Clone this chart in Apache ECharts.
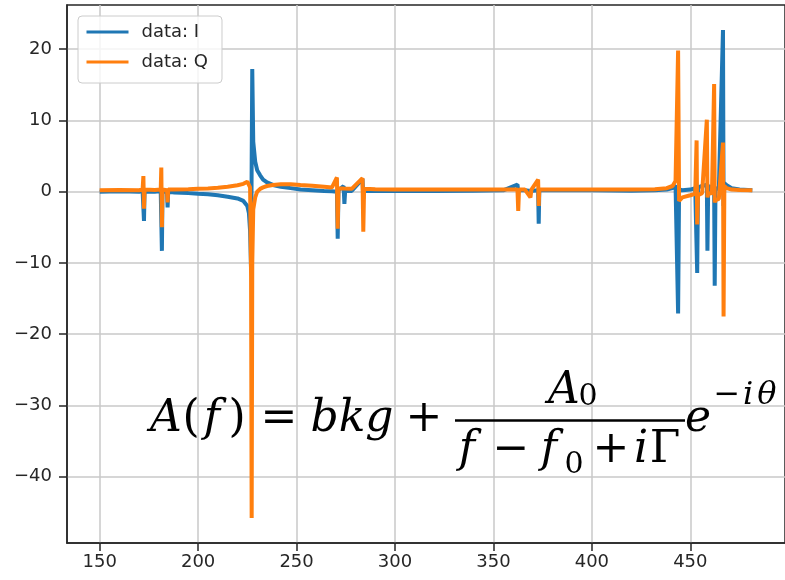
<!DOCTYPE html>
<html><head><meta charset="utf-8">
<script src="https://cdn.jsdelivr.net/npm/echarts@6/dist/echarts.min.js"></script>
<style>html,body{margin:0;padding:0;background:#fff}#c{width:785px;height:580px}</style>
</head><body><div id="c"></div>
<script>
// Frequencies (x values)
const freq = [
150, 160, 170, 171.8, 172.2, 172.5, 172.8, 173.2, 178, 181.0,
181.3, 181.6, 181.9, 182.3, 184.2, 184.5, 184.8, 188, 195, 200,
205, 210, 215, 220, 223, 225, 225.8, 226.4, 226.9, 227.2,
227.5, 228.0, 229.0, 230.0, 231.5, 233, 235, 238, 242, 247,
252, 258, 264, 268, 270.5, 270.9, 271.3, 273.9, 274.3, 274.7,
278, 283.5, 283.9, 284.3, 290, 300, 320, 340, 355, 362.2,
362.6, 363.0, 366, 368.8, 369.3, 372.7, 373.0, 373.3, 380, 400,
420, 432, 438, 441, 442.5, 443.8, 444.3, 446, 450, 452.5,
453.2, 453.5, 453.9, 456, 458.4, 458.7, 459.1, 461, 462.1, 462.4,
462.8, 464.5, 466.6, 466.9, 467.3, 468.5, 471, 475, 481.5
];
// In-phase component
const seriesI = [
0.0, 0.05, 0.0, 0.1, 0.2, -4.1, 0.0, 0.0, 0.0, 0.1,
0.2, -8.3, 0.0, -0.1, 0.0, -2.2, 0.0, -0.1, -0.2, -0.3,
-0.35, -0.5, -0.7, -0.95, -1.3, -2.0, -3.0, -5.5, -11.0, 4.0,
17.2, 7.0, 4.2, 3.0, 2.3, 1.7, 1.3, 0.95, 0.7, 0.5,
0.3, 0.2, 0.1, 0.05, 0.0, -6.6, 0.2, 0.8, -1.7, 0.1,
0.1, 1.8, -1.0, 0.1, 0.1, 0.1, 0.1, 0.15, 0.2, 1.0,
0.2, 0.2, 0.2, 0.1, 0.2, 0.2, -4.5, 0.2, 0.2, 0.2,
0.15, 0.2, 0.3, 0.5, 0.9, -17.1, 0.3, 0.2, 0.3, 0.5,
0.4, -11.4, 0.6, 0.8, 1.0, -8.3, 0.8, 0.6, 0.5, -13.2,
0.5, 0.4, 22.7, -2.0, 1.2, 0.9, 0.5, 0.3, 0.2
];
// Quadrature component
const seriesQ = [
0.2, 0.25, 0.2, 0.3, 2.2, -2.4, 0.3, 0.2, 0.25, 0.3,
3.4, -5.0, 0.3, 0.2, 0.2, -1.5, 0.3, 0.3, 0.35, 0.4,
0.45, 0.55, 0.7, 0.9, 1.1, 1.4, 1.6, 0.6, -12, -45.8,
-10, -2.5, -0.8, 0.0, 0.4, 0.6, 0.8, 0.95, 1.05, 1.05,
0.95, 0.85, 0.7, 0.6, 2.0, -5.2, 0.5, 0.45, 0.4, 0.45,
0.4, 1.9, -5.6, 0.4, 0.35, 0.3, 0.3, 0.3, 0.3, 0.3,
-2.7, 0.3, 0.3, -0.8, 0.3, 1.7, -2.0, 0.3, 0.3, 0.3,
0.3, 0.35, 0.5, 0.8, 1.5, 19.8, -1.3, -0.8, -0.5, -0.3,
7.2, -4.6, -0.5, -0.2, 10.1, -0.8, -0.3, -0.2, 15.1, -1.5,
-1.2, -1.0, 6.9, -17.5, 0.8, 0.5, 0.3, 0.25, 0.2
];
const seriesNames = ['data: I', 'data: Q'];
const xTicks = [150, 200, 250, 300, 350, 400, 450];
const yTicks = [-40, -30, -20, -10, 0, 10, 20];

const pairs = (ys) => freq.map((f, i) => [f, ys[i]]);
const txt = '#262626';
const axisFont = {fontFamily: 'DejaVu Sans', fontSize: 18, color: txt};

function glyph(text, cx, cy, size, italic) {
  return {
    type: 'text', x: cx, y: cy, z: 100,
    style: {
      text: text,
      font: (italic ? 'italic ' : '') + size + 'px "DejaVu Serif"',
      fill: '#000', align: 'center', verticalAlign: 'middle',
      textAlign: 'center', textVerticalAlign: 'middle'
    }
  };
}

const formula = [
  glyph('A', 166, 420, 44, true),
  glyph('(', 191, 420, 44, false),
  glyph('f', 212, 420, 44, true),
  glyph(')', 237, 420, 44, false),
  glyph('=', 279, 420, 44, false),
  glyph('bkg', 352, 420, 44, true),
  glyph('+', 424, 420, 44, false),
  {type: 'line', z: 100, shape: {x1: 455, y1: 420.5, x2: 685, y2: 420.5}, style: {stroke: '#000', lineWidth: 2.5}},
  glyph('A', 564, 392, 44, true),
  glyph('0', 588, 397, 30, false),
  glyph('f', 467, 451, 44, true),
  glyph('\u2212', 511, 451, 44, false),
  glyph('f', 549, 451, 44, true),
  glyph('0', 574, 465, 30, false),
  glyph('+', 611, 451, 44, false),
  glyph('i', 641, 451, 44, true),
  glyph('\u0393', 665, 451, 44, false),
  glyph('e', 698, 420, 44, true),
  glyph('\u2212', 727, 396, 32, false),
  glyph('i', 748, 396, 32, true),
  glyph('\u03b8', 767, 396, 32, true)
];

const chart = echarts.init(document.getElementById('c'), null, {renderer: 'canvas'});
chart.setOption({
  animation: false,
  backgroundColor: '#fff',
  grid: {left: 67, right: -4, top: 5, bottom: 37, show: true, borderColor: txt, borderWidth: 1.5, backgroundColor: 'transparent'},
  legend: {
    left: 78, top: 16, orient: 'vertical',
    data: seriesNames,
    itemWidth: 42, itemHeight: 18, itemGap: 12,
    padding: [7, 14, 12, 7],
    backgroundColor: 'rgba(255,255,255,0.8)',
    borderColor: '#cccccc', borderWidth: 1, borderRadius: 4,
    lineStyle: {width: 3},
    itemStyle: {opacity: 0, borderWidth: 0},
    textStyle: {fontFamily: 'DejaVu Sans', fontSize: 18, color: txt, padding: [0, 0, 0, 8]}
  },
  xAxis: {
    type: 'value', min: 133.4, max: 498.1,
    axisLine: {show: true, onZero: false, lineStyle: {color: txt, width: 1.5}},
    axisTick: {show: true, inside: false, length: 8, customValues: xTicks, lineStyle: {color: txt, width: 1.5}},
    axisLabel: {customValues: xTicks, margin: 10, ...axisFont},
    splitLine: {show: true, lineStyle: {color: '#c8c8c8', width: 1.5}}
  },
  yAxis: {
    type: 'value', min: -49.3, max: 26.2,
    axisLine: {show: true, onZero: false, lineStyle: {color: txt, width: 1.5}},
    axisTick: {show: true, inside: false, length: 8, customValues: yTicks, lineStyle: {color: txt, width: 1.5}},
    axisLabel: {customValues: yTicks, margin: 15, ...axisFont, formatter: v => String(v).replace('-', '\u2212')},
    splitLine: {show: true, lineStyle: {color: '#c8c8c8', width: 1.5}}
  },
  series: [
    {name: seriesNames[0], type: 'line', data: pairs(seriesI), showSymbol: false, symbol: 'none', color: '#1f77b4', lineStyle: {width: 4, color: '#1f77b4'}, z: 2},
    {name: seriesNames[1], type: 'line', data: pairs(seriesQ), showSymbol: false, symbol: 'none', color: '#ff7f0e', lineStyle: {width: 4, color: '#ff7f0e'}, z: 3}
  ],
  graphic: formula
});
</script>
</body></html>
